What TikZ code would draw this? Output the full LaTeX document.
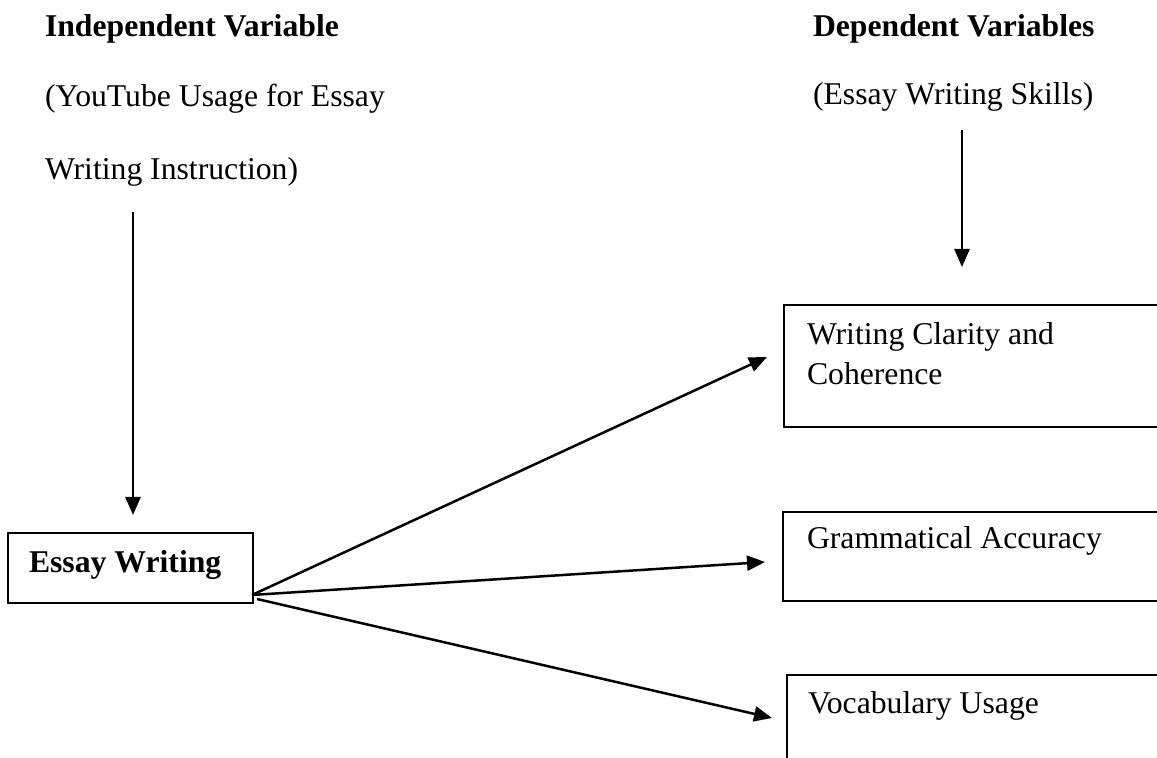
\documentclass[tikz,border=0pt]{standalone}
\usepackage{fontspec}
\setmainfont{Liberation Serif}
\usetikzlibrary{arrows.meta}
\begin{document}
\begin{tikzpicture}[x=0.5pt,y=-0.5pt,
  every node/.style={inner sep=0pt, outer sep=0pt},
  txt/.style={anchor=base west, font=\fontsize{15.85}{20}\selectfont},
  btxt/.style={txt, font=\fontsize{15.85}{20}\selectfont\bfseries},
  boxn/.style={draw, line width=0.9pt, rectangle, anchor=north west},
  arr/.style={line width=1.25pt, -{Triangle[length=9pt,width=7.5pt]}}
]
\useasboundingbox (0,0) rectangle (1157,758);
\clip (0,0) rectangle (1157,758);

% headings
\node[btxt] (indep) at (45,37) {Independent Variable};
\node[txt] (indep2) at (45,107) {(YouTube Usage for Essay};
\node[txt] (indep3) at (45,180) {Writing Instruction)};
\node[btxt] (dep) at (813,37) {Dependent Variables};
\node[txt] (dep2) at (813,105) {(Essay Writing Skills)};

% boxes
\node[boxn, minimum width=122.5pt, minimum height=35pt] (ess) at (8,533) {};
\node[btxt] (esst) at (29,573) {Essay Writing};

\node[boxn, minimum width=200pt, minimum height=61pt] (b1) at (784,305) {};
\node[txt] (b1t) at (807,345) {Writing Clarity and};
\node[txt] (b1u) at (807,385) {Coherence};

\node[boxn, minimum width=200pt, minimum height=44.5pt] (b2) at (783,512) {};
\node[txt] (b2t) at (807,549) {Grammatical Accuracy};

\node[boxn, minimum width=200pt, minimum height=60pt] (b3) at (787,675) {};
\node[txt] (b3t) at (808,714) {Vocabulary Usage};

% connector end points
\coordinate (v1s) at (133,212);
\coordinate (v1e) at (133,515);
\coordinate (v2s) at (962,130);
\coordinate (v2e) at (962,267);
\coordinate (s1) at (252,595);
\coordinate (s3) at (257,599);
\coordinate (t1) at (767,357);
\coordinate (t2) at (765,562);
\coordinate (t3) at (772,718);

\draw[arr] (v1s) -- (v1e);
\draw[arr] (v2s) -- (v2e);
\draw[arr] (s1) -- (t1);
\draw[arr] (s1) -- (t2);
\draw[arr] (s3) -- (t3);
\end{tikzpicture}
\end{document}
